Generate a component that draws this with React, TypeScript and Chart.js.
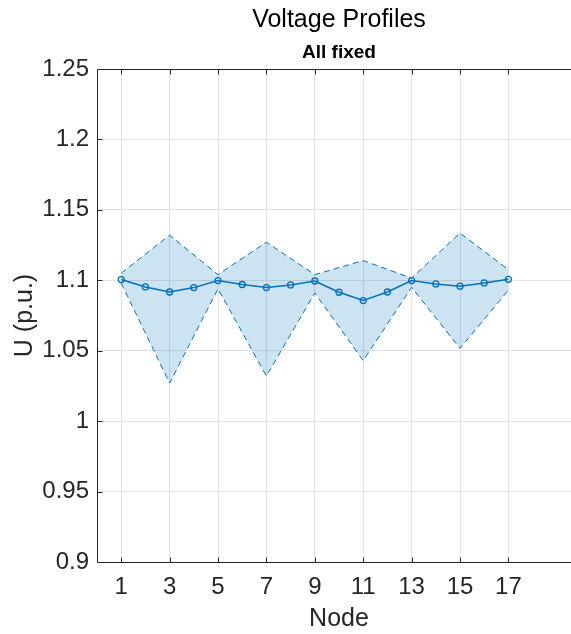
import React, { useEffect, useRef } from "react";
import { Chart, registerables } from "chart.js";

Chart.register(...registerables);

const nodes = [1, 2, 3, 4, 5, 6, 7, 8, 9, 10, 11, 12, 13, 14, 15, 16, 17];
const meanVoltage = [1.1005, 1.0953, 1.0917, 1.0948, 1.0998, 1.097, 1.0948, 1.0967, 1.0995, 1.0915, 1.0856, 1.0917, 1.0998, 1.0974, 1.0958, 1.0981, 1.1007];
const bandNodes = [1, 3, 5, 7, 9, 11, 13, 15, 17];
const upperVoltage = [1.105, 1.132, 1.104, 1.127, 1.104, 1.114, 1.1015, 1.1335, 1.1075];
const lowerVoltage = [1.098, 1.027, 1.094, 1.032, 1.091, 1.043, 1.095, 1.0517, 1.093];
const xTicks = [1, 3, 5, 7, 9, 11, 13, 15, 17];
const yTicks = [0.9, 0.95, 1, 1.05, 1.1, 1.15, 1.2, 1.25];
const yTickLabels = ["0.9", "0.95", "1", "1.05", "1.1", "1.15", "1.2", "1.25"];
const titleText = "Voltage Profiles";
const subtitleText = "All fixed";
const xLabel = "Node";
const yLabel = "U (p.u.)";

const FONT = '"Liberation Sans", Arial, Helvetica, sans-serif';
const BLUE = "#0072BD";
const AXIS = "#262626";

const matlabAxes = {
  id: "matlabAxes",
  afterDraw(chart: any) {
    const { ctx, chartArea, scales } = chart;
    const { left, right, top, bottom } = chartArea;
    const x = scales.x;
    const y = scales.y;
    ctx.save();
    ctx.strokeStyle = AXIS;
    ctx.lineWidth = 1;
    ctx.beginPath();
    const L = Math.round(left) + 0.5;
    const T = Math.round(top) + 0.5;
    const B = Math.round(bottom) + 0.5;
    const R = Math.round(right) - 0.5;
    ctx.moveTo(L, T);
    ctx.lineTo(R, T);
    ctx.lineTo(R, B);
    ctx.lineTo(L, B);
    ctx.closePath();
    const tl = 5;
    xTicks.forEach((t) => {
      const px = Math.round(x.getPixelForValue(t)) + 0.5;
      ctx.moveTo(px, B);
      ctx.lineTo(px, B - tl);
      ctx.moveTo(px, T);
      ctx.lineTo(px, T + tl);
    });
    yTicks.forEach((t) => {
      const py = Math.round(y.getPixelForValue(t)) + 0.5;
      ctx.moveTo(L, py);
      ctx.lineTo(L + tl, py);
      ctx.moveTo(R, py);
      ctx.lineTo(R - tl, py);
    });
    ctx.stroke();
    const cx = (left + right) / 2;
    ctx.fillStyle = "#000";
    ctx.textAlign = "center";
    ctx.textBaseline = "middle";
    ctx.font = `25px ${FONT}`;
    ctx.fillText(titleText, cx, 20);
    ctx.font = `bold 19px ${FONT}`;
    ctx.fillText(subtitleText, cx, 53);
    ctx.restore();
  },
};

export default function App() {
  const ref = useRef<HTMLCanvasElement | null>(null);
  useEffect(() => {
    if (!ref.current) return;
    const chart = new Chart(ref.current, {
      type: "line",
      data: {
        datasets: [
          {
            label: "mean",
            data: nodes.map((n, i) => ({ x: n, y: meanVoltage[i] })),
            borderColor: BLUE,
            borderWidth: 1.5,
            pointRadius: 3,
            pointBorderWidth: 1.3,
            pointBackgroundColor: "rgba(0,0,0,0)",
            pointBorderColor: BLUE,
            fill: false,
            tension: 0,
          },
          {
            label: "upper",
            data: bandNodes.map((n, i) => ({ x: n, y: upperVoltage[i] })),
            borderColor: BLUE,
            borderWidth: 1,
            borderDash: [6, 4],
            pointRadius: 0,
            backgroundColor: "rgba(0,114,189,0.2)",
            fill: { target: 2 },
            tension: 0,
          },
          {
            label: "lower",
            data: bandNodes.map((n, i) => ({ x: n, y: lowerVoltage[i] })),
            borderColor: BLUE,
            borderWidth: 1,
            borderDash: [6, 4],
            pointRadius: 0,
            fill: false,
            tension: 0,
          },
        ],
      },
      options: {
        animation: false,
        responsive: false,
        events: [],
        layout: { padding: { top: 69, right: 9, bottom: 0, left: 0 } },
        plugins: {
          legend: { display: false },
          tooltip: { enabled: false },
          title: { display: false },
        },
        scales: {
          x: {
            type: "linear",
            min: 0,
            max: 20,
            afterFit: (s: any) => {
              s.height = 72;
            },
            afterBuildTicks: (s: any) => {
              s.ticks = xTicks.map((v) => ({ value: v }));
            },
            grid: { color: "#e3e3e3", drawTicks: false },
            border: { display: false },
            ticks: {
              color: AXIS,
              font: { family: FONT, size: 24 },
              padding: 11,
              maxRotation: 0,
              autoSkip: false,
              callback: (v: any) => String(v),
            },
            title: {
              display: true,
              text: xLabel,
              color: AXIS,
              font: { family: FONT, size: 25 },
              padding: { top: 0, bottom: 0 },
            },
          },
          y: {
            type: "linear",
            min: 0.9,
            max: 1.25,
            afterFit: (s: any) => {
              s.width = 97;
            },
            afterBuildTicks: (s: any) => {
              s.ticks = yTicks.map((v) => ({ value: v }));
            },
            grid: { color: "#e3e3e3", drawTicks: false },
            border: { display: false },
            ticks: {
              color: AXIS,
              font: { family: FONT, size: 24 },
              padding: 8,
              autoSkip: false,
              callback: (v: any) => {
                const i = yTicks.findIndex((t) => Math.abs(t - v) < 1e-9);
                return i >= 0 ? yTickLabels[i] : "";
              },
            },
            title: {
              display: true,
              text: yLabel,
              color: AXIS,
              font: { family: FONT, size: 25 },
              padding: { top: 10, bottom: 0 },
            },
          },
        },
      },
      plugins: [matlabAxes],
    } as any);
    return () => chart.destroy();
  }, []);
  return (
    <div style={{ position: "fixed", left: 0, top: 0, width: 571, height: 634, overflow: "hidden", background: "#fff" }}>
      <canvas ref={ref} width={590} height={634} style={{ display: "block", width: 590, height: 634 }} />
    </div>
  );
}
